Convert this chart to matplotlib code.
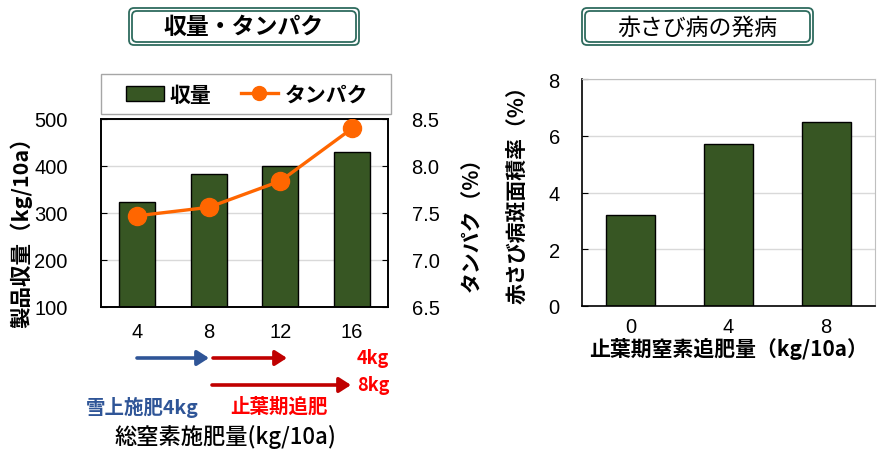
import matplotlib
matplotlib.use("Agg")
import matplotlib.pyplot as plt
from matplotlib.patches import FancyBboxPatch, Patch, Rectangle
from matplotlib.lines import Line2D
from matplotlib.ticker import FormatStrFormatter

plt.rcParams['font.family'] = ['Liberation Sans', 'Noto Sans CJK JP', 'DejaVu Sans']
JP = ['Noto Sans CJK JP', 'DejaVu Sans']

# 収量・タンパク
n_levels = ['4', '8', '12', '16']
yield_kg = [324, 382, 400, 429]
protein = [7.47, 7.56, 7.84, 8.40]

# 赤さび病
topdress = ['0', '4', '8']
rust_rate = [3.2, 5.7, 6.5]

GREEN = '#375623'
ORANGE = '#ff6600'
GRID = '#d9d9d9'
W, H = 882, 452
TICK_FS = 14.5

fig = plt.figure(figsize=(W / 100, H / 100), dpi=100)


def frac(x0, y0, x1, y1):
    return [x0 / W, 1 - y1 / H, (x1 - x0) / W, (y1 - y0) / H]


# left chart
ax = fig.add_axes(frac(101, 120, 388, 308))
xs = range(len(n_levels))
ax.bar(xs, yield_kg, width=0.5, color=GREEN, edgecolor='black', linewidth=1, zorder=2)
ax.set_xlim(-0.5, len(n_levels) - 0.5)
ax.set_ylim(100, 500)
ax.set_yticks([100, 200, 300, 400, 500])
ax.set_xticks(list(xs))
ax.set_xticklabels(n_levels)
ax.yaxis.grid(True, color=GRID, linewidth=1, zorder=0)
ax.set_axisbelow(True)
ax.tick_params(axis='y', direction='in', length=4, pad=24, labelsize=TICK_FS)
ax.tick_params(axis='x', length=0, pad=11, labelsize=TICK_FS)
for s in ax.spines.values():
    s.set_color('black')
    s.set_linewidth(1.2)
ax.set_ylabel('製品収量（kg/10a）', family=JP, fontsize=15.5, fontweight='bold', va='center')
ax.yaxis.set_label_coords(-0.279, 0.43)

ax2 = ax.twinx()
ax2.plot(xs, protein, color=ORANGE, linewidth=2.4, marker='o', markersize=13, zorder=3)
ax2.set_ylim(6.5, 8.5)
ax2.set_yticks([6.5, 7.0, 7.5, 8.0, 8.5])
ax2.yaxis.set_major_formatter(FormatStrFormatter('%.1f'))
ax2.tick_params(axis='y', direction='in', length=4, pad=17, labelsize=TICK_FS)
ax2.set_ylabel('タンパク（%）', family=JP, fontsize=15, fontweight='bold', va='center')
ax2.yaxis.set_label_coords(1.289, 0.47)
for s in ax2.spines.values():
    s.set_color('black')
    s.set_linewidth(1.2)

# right chart
bx = fig.add_axes(frac(582, 80, 875, 307))
xr = range(len(topdress))
bx.bar(xr, rust_rate, width=0.5, color=GREEN, edgecolor='black', linewidth=1, zorder=2)
bx.set_xlim(-0.5, len(topdress) - 0.5)
bx.set_ylim(0, 8)
bx.set_yticks([0, 2, 4, 6, 8])
bx.set_xticks(list(xr))
bx.set_xticklabels(topdress)
bx.yaxis.grid(True, color=GRID, linewidth=1, zorder=0)
bx.set_axisbelow(True)
bx.tick_params(axis='y', direction='in', length=4, pad=16, labelsize=TICK_FS)
bx.tick_params(axis='x', length=0, pad=8, labelsize=TICK_FS)
bx.spines['left'].set_color('black')
bx.spines['bottom'].set_color('black')
bx.spines['left'].set_linewidth(1.2)
bx.spines['bottom'].set_linewidth(1.2)
bx.spines['top'].set_color('#bfbfbf')
bx.spines['right'].set_color('#bfbfbf')
bx.set_ylabel('赤さび病斑面積率（%）', family=JP, fontsize=15, fontweight='bold', va='center')
bx.yaxis.set_label_coords(-0.222, 0.515)
bx.set_xlabel('止葉期窒素追肥量（kg/10a）', family=JP, fontsize=15, fontweight='bold',
              va='center')
bx.xaxis.set_label_coords(0.5, -0.185)

# overlay in pixel coordinates for title boxes, legend frame, arrows and notes
ov = fig.add_axes([0, 0, 1, 1], zorder=5)
ov.set_xlim(0, W)
ov.set_ylim(H, 0)
ov.axis('off')

ov.add_patch(Rectangle((101, 75), 290, 40, facecolor='white', edgecolor='#a6a6a6', linewidth=1))
handles = [Patch(facecolor=GREEN, edgecolor='black', linewidth=1),
           Line2D([], [], color=ORANGE, linewidth=2.4, marker='o', markersize=10)]
ov.legend(handles, ['収量', 'タンパク'], loc='center', bbox_to_anchor=(247 / W, 1 - 95 / H),
          bbox_transform=fig.transFigure, ncol=2, frameon=False,
          prop={'family': JP, 'size': 15, 'weight': 'bold'},
          handlelength=1.8, handletextpad=0.3, columnspacing=1.4)


def title_box(x0, x1, text, weight):
    for inset in (0, 3):
        ov.add_patch(FancyBboxPatch((x0 + inset, 9 + inset), x1 - x0 - 2 * inset, 37 - 2 * inset,
                                    boxstyle='round,pad=0,rounding_size=5',
                                    facecolor='white' if inset == 0 else 'none',
                                    edgecolor='#2e6b5e', linewidth=1.3))
    ov.text((x0 + x1) / 2, 28, text, family=JP, fontsize=16.5, fontweight=weight,
            ha='center', va='center')


title_box(129, 359, '収量・タンパク', 'bold')
title_box(582, 813, '赤さび病の発病', 'normal')

arrow = dict(arrowstyle='-|>,head_length=0.7,head_width=0.45', linewidth=2.6,
             shrinkA=0, shrinkB=0)
ov.annotate('', xy=(209, 359), xytext=(137, 359), arrowprops=dict(color='#2f5597', **arrow))
ov.annotate('', xy=(287, 359), xytext=(213, 359), arrowprops=dict(color='#c00000', **arrow))
ov.annotate('', xy=(351, 386), xytext=(212, 386), arrowprops=dict(color='#c00000', **arrow))

ov.text(389, 359, '4kg', family=JP, fontsize=13, fontweight='bold', color='#ff0000',
        ha='right', va='center')
ov.text(389, 386, '8kg', family=JP, fontsize=13, fontweight='bold', color='#ff0000',
        ha='right', va='center')
ov.text(86, 407, '雪上施肥4kg', family=JP, fontsize=14, fontweight='bold', color='#2f5597',
        ha='left', va='center')
ov.text(230, 407, '止葉期追肥', family=JP, fontsize=14, fontweight='bold', color='#ff0000',
        ha='left', va='center')
ov.text(225, 437, '総窒素施肥量(kg/10a)', family=JP, fontsize=16, fontweight='medium',
        ha='center', va='center')

fig.savefig('out.png', dpi=100)
